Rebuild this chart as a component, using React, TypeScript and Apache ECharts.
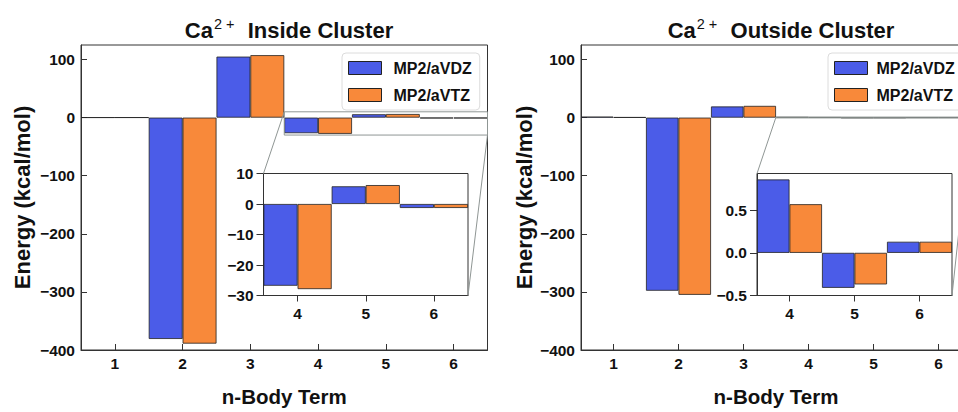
import React, { useEffect, useRef } from "react";
import * as echarts from "echarts";

const categories = ["1", "2", "3", "4", "5", "6"];
const insetCategories = ["4", "5", "6"];
const seriesNames = ["MP2/aVDZ", "MP2/aVTZ"];

const insideVDZ = [0.2, -381, 105, -26.8, 5.8, -1.3];
const insideVTZ = [0.3, -389, 107.5, -27.9, 6.2, -1.3];
const outsideVDZ = [1.6, -298, 19.2, 0.86, -0.41, 0.13];
const outsideVTZ = [0.6, -305, 20.2, 0.57, -0.37, 0.13];

const mainTicks = [-400, -300, -200, -100, 0, 100];
const insideInsetTicks = [-30, -20, -10, 0, 10];
const outsideInsetTicks = [-0.5, 0, 0.5];

const BLUE = "#4b5ce8";
const ORANGE = "#f8893a";
const EDGE = "#222";
const FONT = "Liberation Sans, Arial, Helvetica, sans-serif";

// layout (pixels)
const G = {
  L: { left: 81, top: 45, width: 406.5, height: 321 },
  R: { left: 581, top: 45, width: 390, height: 321 },
  LI: { left: 263.5, top: 173.5, width: 204.5, height: 122 },
  RI: { left: 757, top: 173.5, width: 195, height: 122 },
};

const minusFmt = (v: number) => (v < 0 ? "\u2212" + Math.abs(v) : String(v));
const minusFmt1 = (v: number) => (v < 0 ? "\u2212" + Math.abs(v).toFixed(1) : v.toFixed(1));

function App() {
  const ref = useRef<HTMLDivElement>(null);
  useEffect(() => {
    if (!ref.current) return;
    const chart = echarts.init(ref.current, null, { renderer: "svg" });

    const labelStyle = { fontFamily: FONT, fontWeight: "bold" as const, fontSize: 15.5, color: "#111" };
    const xNameStyle = { fontFamily: FONT, fontWeight: "bold" as const, fontSize: 20.5, color: "#111" };
    const yNameStyle = { fontFamily: FONT, fontWeight: "bold" as const, fontSize: 22, color: "#111" };

    const grid = (g: any) => ({
      ...g,
      show: true,
      borderColor: "#333",
      borderWidth: 1,
      backgroundColor: "#fff",
      containLabel: false,
    });

    const mainX = (gi: number) => ({
      type: "category",
      gridIndex: gi,
      data: categories,
      boundaryGap: true,
      name: "n-Body Term",
      nameLocation: "middle",
      nameGap: 36,
      nameTextStyle: xNameStyle,
      axisLine: { show: true, onZero: false, lineStyle: { color: "#333", width: 1 } },
      axisTick: { show: true, inside: true, alignWithLabel: true, length: 6, lineStyle: { color: "#333" } },
      axisLabel: { ...labelStyle, margin: 5 },
      splitLine: { show: false },
    });
    const insetX = (gi: number) => ({
      type: "category",
      gridIndex: gi,
      data: insetCategories,
      boundaryGap: true,
      axisLine: { show: true, onZero: false, lineStyle: { color: "#333", width: 1 } },
      axisTick: { show: true, inside: false, alignWithLabel: true, length: 6, lineStyle: { color: "#333" } },
      axisLabel: { ...labelStyle, margin: 10 },
      splitLine: { show: false },
    });
    const mainY = (gi: number, gap: number) => ({
      type: "value",
      gridIndex: gi,
      min: -400,
      max: 125,
      name: "Energy (kcal/mol)",
      nameLocation: "middle",
      nameGap: gap,
      nameRotate: 90,
      nameTextStyle: yNameStyle,
      axisLine: { show: true, lineStyle: { color: "#333", width: 1 } },
      axisTick: { show: true, inside: true, length: 6, customValues: mainTicks, lineStyle: { color: "#333" } },
      axisLabel: { ...labelStyle, margin: 6, customValues: mainTicks, formatter: minusFmt },
      splitLine: { show: false },
    });
    const insetY = (gi: number, min: number, max: number, ticks: number[], fmt: any) => ({
      type: "value",
      gridIndex: gi,
      min,
      max,
      axisLine: { show: true, lineStyle: { color: "#333", width: 1 } },
      axisTick: { show: true, inside: false, length: 7, customValues: ticks, lineStyle: { color: "#333" } },
      axisLabel: { ...labelStyle, margin: 10, customValues: ticks, formatter: fmt },
      splitLine: { show: false },
    });

    const bar = (name: string, color: string, data: number[], xi: number, yi: number) => ({
      type: "bar",
      name,
      data,
      xAxisIndex: xi,
      yAxisIndex: yi,
      barGap: "0%",
      barCategoryGap: "0%",
      itemStyle: { color, borderColor: EDGE, borderWidth: 0.8 },
      emphasis: { disabled: true },
      z: 2,
    });

    // zoom indicator: rectangle in main axes + connectors to inset corners
    const zoomSeries = (xi: number, yi: number, yTop: number, yBot: number, inset: any) => ({
      type: "custom",
      xAxisIndex: xi,
      yAxisIndex: yi,
      data: [[3, yTop]],
      clip: false,
      silent: true,
      z: 5,
      renderItem: (params: any, api: any) => {
        const bw = api.size([1, 0])[0];
        const pTop = api.coord([3, yTop]);
        const pBot = api.coord([5, yBot]);
        const x0 = pTop[0] - bw / 2;
        const x1 = pBot[0] + bw / 2;
        const y0 = pTop[1];
        const y1 = pBot[1];
        const st = { stroke: "#8f9694", lineWidth: 1, fill: null };
        return {
          type: "group",
          children: [
            { type: "rect", shape: { x: x0, y: y0, width: x1 - x0, height: Math.max(y1 - y0, 0.5) }, style: st },
            { type: "line", shape: { x1: x0, y1: y0, x2: inset.left, y2: inset.top }, style: st },
            {
              type: "line",
              shape: { x1: x1, y1: y1, x2: inset.left + inset.width, y2: inset.top + inset.height },
              style: st,
            },
          ],
        };
      },
    });

    const legend = (left: number, textGap: number) => ({
      orient: "vertical",
      left,
      top: 53,
      data: seriesNames,
      icon: "rect",
      itemWidth: 33,
      itemHeight: 13,
      itemGap: 11,
      padding: [7, 8, 7, 6],
      backgroundColor: "#fff",
      borderColor: "#dcdcdc",
      borderWidth: 1,
      borderRadius: 4,
      selectedMode: false,
      itemStyle: { borderColor: EDGE, borderWidth: 1 },
      textStyle: { ...labelStyle, fontSize: 16, padding: [0, 0, 0, textGap] },
    });

    const titleRich = {
      b: { fontFamily: FONT, fontWeight: "bold", fontSize: 22, color: "#111", lineHeight: 28 },
      s: { fontFamily: FONT, fontWeight: "normal", fontSize: 14.5, color: "#111", verticalAlign: "top", lineHeight: 15, padding: [0, 1, 0, 1] },
    };

    chart.setOption({
      animation: false,
      backgroundColor: "#fff",
      title: [
        { text: "{b|Ca}{s|2 +}{b|  Inside Cluster}", left: 284, top: 11, textAlign: "center", textStyle: { rich: titleRich } },
        { text: "{b|Ca}{s|2 +}{b|  Outside Cluster}", left: 776, top: 11, textAlign: "center", textStyle: { rich: titleRich } },
      ],
      legend: [legend(342, 7), legend(828, 4)],
      grid: [grid(G.L), grid(G.R), grid(G.LI), grid(G.RI)],
      xAxis: [mainX(0), mainX(1), insetX(2), insetX(3)],
      yAxis: [
        mainY(0, 48),
        mainY(1, 46),
        insetY(2, -30, 10, insideInsetTicks, minusFmt),
        insetY(3, -0.5, 0.93, outsideInsetTicks, minusFmt1),
      ],
      series: [
        bar(seriesNames[0], BLUE, insideVDZ, 0, 0),
        bar(seriesNames[1], ORANGE, insideVTZ, 0, 0),
        bar(seriesNames[0], BLUE, outsideVDZ, 1, 1),
        bar(seriesNames[1], ORANGE, outsideVTZ, 1, 1),
        bar(seriesNames[0], BLUE, insideVDZ.slice(3), 2, 2),
        bar(seriesNames[1], ORANGE, insideVTZ.slice(3), 2, 2),
        bar(seriesNames[0], BLUE, outsideVDZ.slice(3), 3, 3),
        bar(seriesNames[1], ORANGE, outsideVTZ.slice(3), 3, 3),
        zoomSeries(0, 0, 10, -30, G.LI),
        zoomSeries(1, 1, 0.93, -0.5, G.RI),
      ],
    });
    return () => chart.dispose();
  }, []);

  return (
    <div style={{ position: "fixed", left: 0, top: 0, width: 958, height: 412, overflow: "hidden", background: "#fff" }}>
      <div ref={ref} style={{ width: 985, height: 412 }} />
    </div>
  );
}

export default App;
